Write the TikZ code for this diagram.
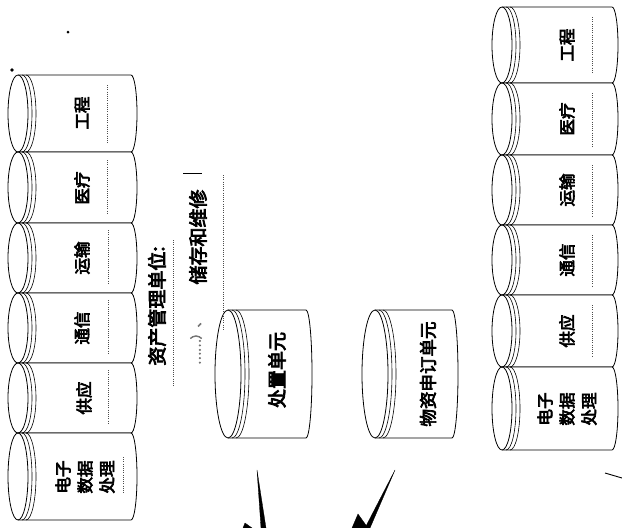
\documentclass[tikz,border=0pt]{standalone}
\usepackage{fontspec}
\newfontfamily\cjk[FakeBold=4]{Noto Sans CJK SC}
\tikzset{
  cyl/.style={draw=black,line width=0.8pt},
  dashln/.style={draw=black!70,line width=0.5pt,dash pattern=on 1pt off 1.2pt},
  lbl/.style={rotate=90,inner sep=0pt,font=\cjk\fontsize{16.5}{22}\selectfont,align=center},
  biglbl/.style={rotate=90,inner sep=0pt,font=\cjk\fontsize{19}{22}\selectfont},
  wedge/.style={fill=black,draw=black,line width=0.3pt}
}
% cylinder lying on its side: #1 left x, #2 right x, #3 top y, #4 bottom y, #5 front radius, #6 ring spacing
\newcommand\mycyl[6]{%
  \pgfmathsetmacro\cyc{-(#3+#4)/2}%
  \pgfmathsetmacro\cyh{(#4-#3)/2}%
  \pgfmathsetmacro\cxa{#1+#5}%
  \pgfmathsetmacro\cxb{#2-6}%
  \fill[white] (\cxa,-#3) -- (\cxb,-#3) arc[start angle=90,end angle=-90,x radius=6,y radius=\cyh] -- (\cxa,-#4) -- cycle;
  \draw[cyl] (\cxa,-#3) -- (\cxb,-#3) arc[start angle=90,end angle=-90,x radius=6,y radius=\cyh] -- (\cxa,-#4);
  \draw[cyl,fill=white] (\cxa,\cyc) ellipse[x radius=#5,y radius=\cyh];
  \draw[cyl,line width=0.6pt] (\cxa+#6,-#3) arc[start angle=90,end angle=-90,x radius=#5,y radius=\cyh];
  \draw[cyl,line width=0.6pt] (\cxa+2*#6,-#3) arc[start angle=90,end angle=-90,x radius=#5,y radius=\cyh];
}
\begin{document}
\begin{tikzpicture}[x=1pt,y=1pt]
\fill[white] (0,0) rectangle (622,-528);
\useasboundingbox (0,0) rectangle (622,-528);

% ---------- left column ----------
\mycyl{8}{137}{75}{152}{10}{4}
\mycyl{8}{137}{152}{223}{10}{4}
\mycyl{8}{137}{223}{293}{10}{4}
\mycyl{8}{137}{293}{363}{10}{4}
\mycyl{8}{137}{363}{433}{10}{4}
\mycyl{8}{137}{433}{520}{10}{4}
\node[lbl] (l1) at (82,-113) {工程};
\node[lbl] (l2) at (82,-188) {医疗};
\node[lbl] (l3) at (82,-258) {运输};
\node[lbl] (l4) at (82,-328) {通信};
\node[lbl] (l5) at (84,-398) {供应};
\node[lbl] (l6) at (85,-477) {电子\\数据\\处理};
\draw[dashln] (107,-85) -- (107,-143);
\draw[dashln] (107,-160) -- (107,-215);
\draw[dashln] (108,-230) -- (108,-285);
\draw[dashln] (108,-300) -- (108,-355);
\draw[dashln] (108,-370) -- (108,-425);
\draw[dashln] (123,-457) -- (123,-493);

% ---------- right column ----------
\mycyl{492}{618}{7}{83}{10}{4}
\mycyl{492}{618}{83}{155}{10}{4}
\mycyl{492}{618}{155}{225}{10}{4}
\mycyl{492}{618}{225}{295}{10}{4}
\mycyl{492}{618}{295}{367}{10}{4}
\mycyl{492}{618}{367}{450}{10}{4}
\node[lbl] (r1) at (567,-45) {工程};
\node[lbl] (r2) at (567,-119) {医疗};
\node[lbl] (r3) at (567,-190) {运输};
\node[lbl] (r4) at (567,-260) {通信};
\node[lbl] (r5) at (567,-331) {供应};
\node[lbl] (r6) at (567,-409) {电子\\数据\\处理};
\draw[dashln] (592,-17) -- (592,-73);
\draw[dashln] (592,-93) -- (592,-147);
\draw[dashln] (592,-165) -- (592,-217);
\draw[dashln] (592,-235) -- (592,-287);
\draw[dashln] (592,-305) -- (592,-357);

% ---------- middle cylinders ----------
\mycyl{215}{312}{310}{438}{13}{4}
\mycyl{362}{458}{310}{438}{13}{4}
\node[biglbl] (m1) at (277,-370) {处置单元};
\node[biglbl,font=\cjk\fontsize{17.5}{20}\selectfont] (m2) at (428,-374) {物资申订单元};

% ---------- label ----------
\node[rotate=90,inner sep=0pt,font=\cjk\fontsize{19}{22}\selectfont] (t1) at (157,-306) {资产管理单位:};
\node[rotate=90,inner sep=0pt,font=\cjk\fontsize{19}{22}\selectfont] (t2) at (198,-237) {储存和维修};
\node[rotate=90,inner sep=0pt,text=black!55,font=\cjk\fontsize{12}{14}\selectfont] (t3) at (196,-340) {……）、};
\draw[dashln] (173,-240) -- (173,-387);
\draw[dashln] (223,-175) -- (223,-330);
\draw[line width=0.6pt] (183,-173) -- (202,-173);

% ---------- arrows at the bottom ----------
\fill[wedge] (257,-470) -- (266,-528) -- (261,-528) -- cycle;
\fill[wedge] (245,-523) -- (252,-528) -- (243,-528) -- cycle;
\fill[wedge] (395,-470) -- (370,-528) -- (365,-528) -- cycle;
\fill[wedge] (358,-514) -- (368,-528) -- (352,-528) -- cycle;
\draw[line width=0.9pt] (605,-473) -- (622,-478);

% ---------- specks ----------
\fill (12,-70) circle (1.8);
\fill (68,-32) circle (1.5);
\end{tikzpicture}
\end{document}
